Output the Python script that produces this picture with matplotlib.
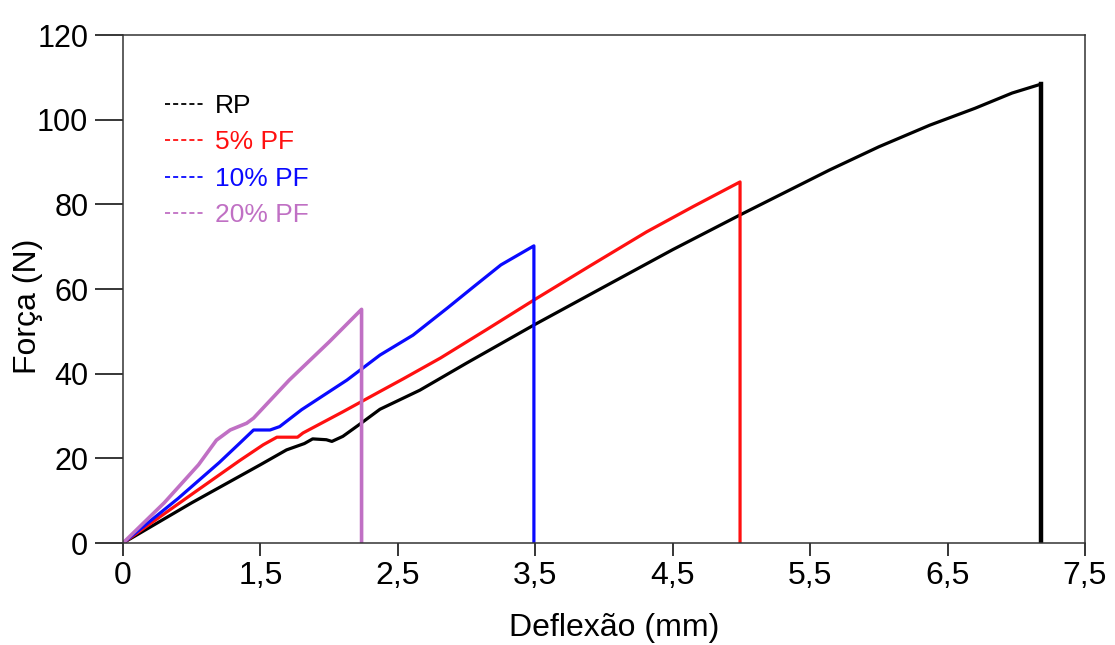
import matplotlib.pyplot as plt
from matplotlib.lines import Line2D

plt.rcParams['font.family'] = ['Liberation Sans', 'DejaVu Sans']

# Curvas força x deflexão (posição no eixo, força em N)
rp_x = [0, 0.5, 1.0, 1.19, 1.32, 1.38, 1.48, 1.52, 1.6, 1.72, 1.87, 2.16, 2.5, 2.99,
        3.5, 4.0, 4.49, 5.14, 5.5, 5.87, 6.2, 6.47, 6.68, 6.68]
rp_y = [0, 9.5, 18.5, 22, 23.5, 24.6, 24.4, 24.0, 25.2, 28.0, 31.6, 36.1, 42.5, 51.5,
        60.5, 69.3, 77.5, 88.1, 93.6, 98.7, 102.7, 106.3, 108.4, 0]

pf5_x = [0, 0.5, 0.85, 1.02, 1.12, 1.27, 1.31, 1.6, 1.87, 2.04, 2.31, 2.65, 2.99,
         3.4, 3.81, 4.15, 4.49, 4.49]
pf5_y = [0, 11.5, 19.5, 23.2, 25, 25, 26, 31, 35.8, 38.8, 43.7, 50.5, 57.4,
         65.5, 73.5, 79.5, 85.3, 0]

pf10_x = [0, 0.4, 0.7, 0.85, 0.95, 1.07, 1.14, 1.3, 1.63, 1.87, 2.11, 2.36, 2.55,
          2.75, 2.99, 2.99]
pf10_y = [0, 10.5, 19, 23.6, 26.7, 26.7, 27.5, 31.5, 38.5, 44.4, 49.1, 55.5, 60.5,
          65.7, 70.2, 0]

pf20_x = [0, 0.3, 0.55, 0.68, 0.78, 0.9, 0.95, 1.21, 1.5, 1.736, 1.736]
pf20_y = [0, 9.5, 18.5, 24.3, 26.7, 28.3, 29.5, 38.5, 47.5, 55.2, 0]

xticks = [0, 1, 2, 3, 4, 5, 6, 7]
xlabels = ['0', '1,5', '2,5', '3,5', '4,5', '5,5', '6,5', '7,5']
yticks = [0, 20, 40, 60, 80, 100, 120]

red = '#ff1010'
blue = '#0a0aff'
purple = '#c070c4'

fig = plt.figure(figsize=(11.15, 6.45), dpi=100)
ax = fig.add_axes([0.1103, 0.1581, 0.8628, 0.7876])

ax.plot(rp_x[:-1], rp_y[:-1], color='black', lw=2.3)
ax.plot(rp_x[-2:], rp_y[-2:], color='black', lw=3.2)
ax.plot(pf5_x, pf5_y, color=red, lw=2.3)
ax.plot(pf10_x, pf10_y, color=blue, lw=2.3)
ax.plot(pf20_x, pf20_y, color=purple, lw=2.6)

ax.set_xlim(0, 7)
ax.set_ylim(0, 120)
ax.set_xticks(xticks)
ax.set_xticklabels(xlabels)
ax.set_yticks(yticks)
ax.tick_params(axis='y', direction='out', length=20, width=1.1, labelsize=22, pad=5)
ax.tick_params(axis='x', direction='out', length=9, width=1.1, labelsize=23, pad=4)
for s in ax.spines.values():
    s.set_linewidth(1.1)
    s.set_color('#333333')

ax.set_xlabel('Deflexão (mm)', fontsize=23)
ax.set_ylabel('Força (N)', fontsize=23)
ax.xaxis.set_label_coords(0.511, -0.137)
ax.yaxis.set_label_coords(-0.083, 0.466)

handles = [Line2D([], [], color=c, lw=1.3, dashes=(2.8, 1.7))
           for c in ['black', red, blue, purple]]
ax.legend(handles, ['RP', '5% PF', '10% PF', '20% PF'], loc='upper left',
          bbox_to_anchor=(0.0437, 0.884), frameon=False, fontsize=19,
          borderpad=0, borderaxespad=0,
          handlelength=1.5, handletextpad=0.38, labelspacing=0.47,
          labelcolor=['black', red, blue, purple])

fig.savefig('out.png', dpi=100)
